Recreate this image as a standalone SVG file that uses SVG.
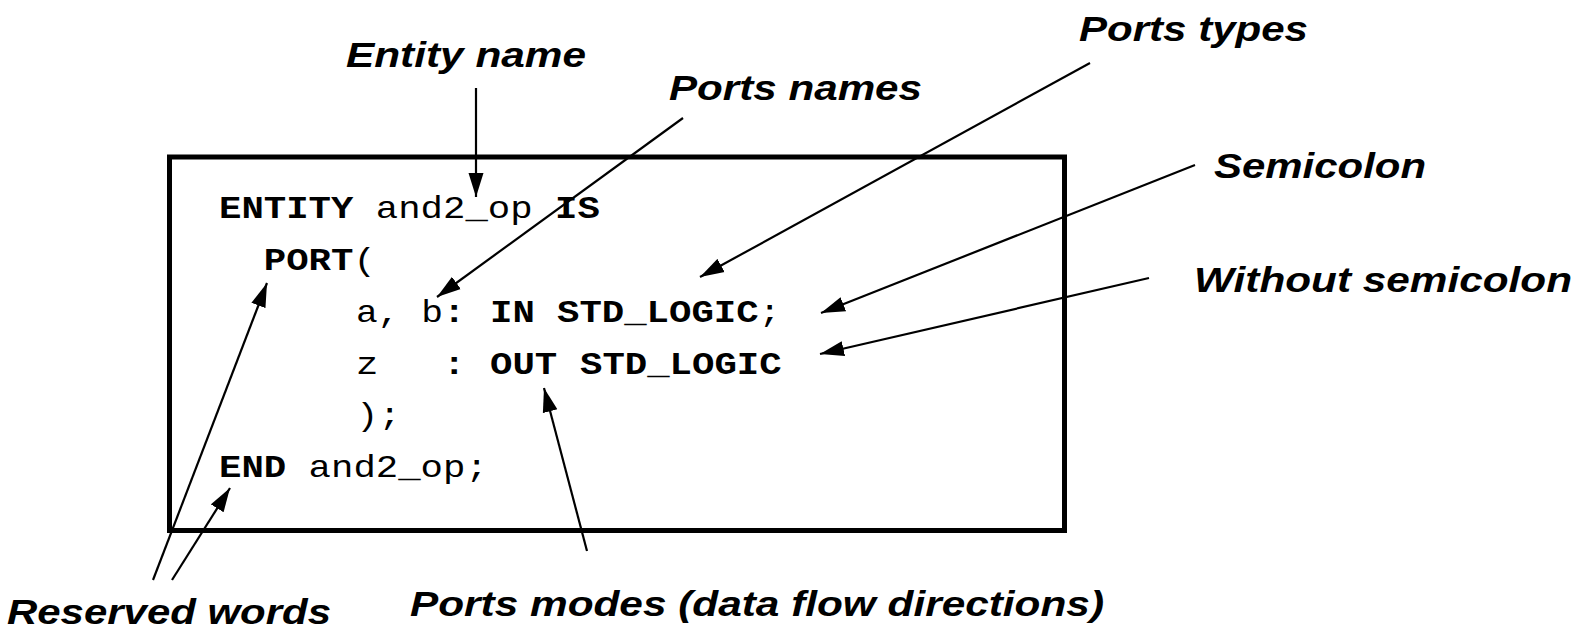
<svg xmlns="http://www.w3.org/2000/svg" width="1586" height="631" viewBox="0 0 1586 631">
  <style>
    .label { font-family: "Liberation Sans", Arial, sans-serif; font-weight: bold; font-style: italic; font-size: 35px; fill: #000; }
    .code { font-family: "Liberation Mono", "Courier New", monospace; font-size: 32px; fill: #000; }
    .kw { font-weight: bold; }
    .frame { fill: none; stroke: #000; stroke-width: 5; }
    .conn { fill: none; stroke: #000; stroke-width: 2.2; marker-end: url(#head); }
  </style>
  <defs>
    <marker id="head" markerUnits="userSpaceOnUse" markerWidth="26" markerHeight="16" refX="24" refY="7.5" orient="auto" viewBox="0 0 26 15">
      <path d="M0,0 L24,7.5 L0,15 Z" fill="#000"/>
    </marker>
  </defs>

  <rect width="1586" height="631" fill="#fff"/>

  <!-- entity declaration box with its source lines (monospace grid: x = 219 + 22.4*col) -->
  <g id="entity-box">
    <rect class="frame" x="169.5" y="157" width="895" height="373.5"/>
    <g class="code">
      <text class="kw" x="219" y="218" textLength="134.4" lengthAdjust="spacingAndGlyphs">ENTITY</text>
      <text x="375.8" y="218" textLength="156.8" lengthAdjust="spacingAndGlyphs">and2_op</text>
      <text class="kw" x="555" y="218" textLength="44.8" lengthAdjust="spacingAndGlyphs">IS</text>

      <text class="kw" x="263.8" y="270" textLength="89.6" lengthAdjust="spacingAndGlyphs">PORT</text>
      <text x="353.4" y="270" textLength="22.4" lengthAdjust="spacingAndGlyphs">(</text>

      <text x="356" y="322" textLength="87" lengthAdjust="spacingAndGlyphs">a, b</text>
      <text class="kw" x="443" y="322" textLength="22.4" lengthAdjust="spacingAndGlyphs">:</text>
      <text class="kw" x="490" y="322" textLength="44.8" lengthAdjust="spacingAndGlyphs">IN</text>
      <text class="kw" x="557" y="322" textLength="201.6" lengthAdjust="spacingAndGlyphs">STD_LOGIC</text>
      <text x="758.6" y="322" textLength="22.4" lengthAdjust="spacingAndGlyphs">;</text>

      <text x="356" y="374" textLength="22.4" lengthAdjust="spacingAndGlyphs">z</text>
      <text class="kw" x="443" y="374" textLength="22.4" lengthAdjust="spacingAndGlyphs">:</text>
      <text class="kw" x="490" y="374" textLength="67.2" lengthAdjust="spacingAndGlyphs">OUT</text>
      <text class="kw" x="580" y="374" textLength="201.6" lengthAdjust="spacingAndGlyphs">STD_LOGIC</text>

      <text x="356" y="425" textLength="44.8" lengthAdjust="spacingAndGlyphs">);</text>

      <text class="kw" x="219" y="477" textLength="67.2" lengthAdjust="spacingAndGlyphs">END</text>
      <text x="308.6" y="477" textLength="179.2" lengthAdjust="spacingAndGlyphs">and2_op;</text>
    </g>
  </g>

  <!-- callout labels -->
  <g id="label-entity-name"><text class="label" x="346" y="67" textLength="240" lengthAdjust="spacingAndGlyphs">Entity name</text></g>
  <g id="label-ports-names"><text class="label" x="669" y="100" textLength="253" lengthAdjust="spacingAndGlyphs">Ports names</text></g>
  <g id="label-ports-types"><text class="label" x="1079" y="41" textLength="229" lengthAdjust="spacingAndGlyphs">Ports types</text></g>
  <g id="label-semicolon"><text class="label" x="1214" y="178" textLength="212" lengthAdjust="spacingAndGlyphs">Semicolon</text></g>
  <g id="label-without-semicolon"><text class="label" x="1194" y="292" textLength="378" lengthAdjust="spacingAndGlyphs">Without semicolon</text></g>
  <g id="label-reserved-words"><text class="label" x="7" y="624" textLength="324" lengthAdjust="spacingAndGlyphs">Reserved words</text></g>
  <g id="label-ports-modes"><text class="label" x="410" y="616" textLength="694" lengthAdjust="spacingAndGlyphs">Ports modes (data flow directions)</text></g>

  <!-- pointer arrows from labels to code -->
  <g id="connectors">
    <line class="conn" x1="476" y1="88" x2="476" y2="197"/>
    <line class="conn" x1="683" y1="118" x2="437" y2="297"/>
    <line class="conn" x1="1090" y1="63" x2="700" y2="277"/>
    <line class="conn" x1="1195" y1="165" x2="821" y2="313"/>
    <line class="conn" x1="1149" y1="278" x2="820" y2="354"/>
    <line class="conn" x1="587" y1="551" x2="544" y2="388"/>
    <line class="conn" x1="153" y1="580" x2="267" y2="283"/>
    <line class="conn" x1="172" y1="580" x2="230" y2="488"/>
  </g>
</svg>
